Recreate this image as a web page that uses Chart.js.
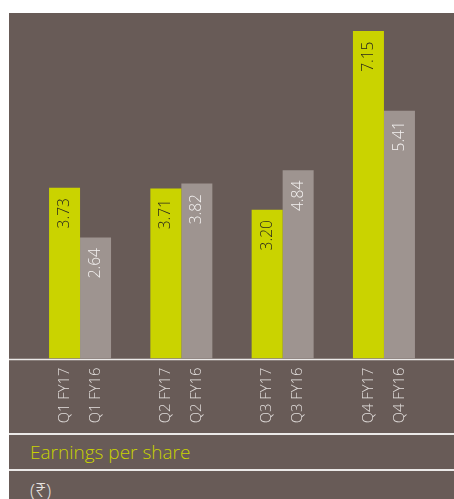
<!DOCTYPE html>
<html>
<head>
<meta charset="utf-8">
<script src="https://cdn.jsdelivr.net/npm/chart.js@4"></script>
<style>
  html, body { margin: 0; padding: 0; background: #fff; overflow: hidden; }
  #panel {
    position: absolute; left: 9px; top: 13px; width: 445px; height: 486px;
    background: #685b57; overflow: hidden;
    font-family: "Open Sans", "Noto Sans", "DejaVu Sans", sans-serif; font-weight: 300;
  }
  #epsChart { display: block; }
  .row { border-top: 2px solid #ebe9e8; padding-left: 21px; font-size: 19px; }
  .title { color: #c9d300; height: 34px; line-height: 34px; }
  .unit { color: #e6e2e0; height: 40px; line-height: 38px; }
</style>
</head>
<body>
<div id="panel">
  <canvas id="epsChart" width="445" height="420"></canvas>
  <div class="row title">Earnings per share</div>
  <div class="row unit">(₹)</div>
</div>
<script>
// quarters and the two years compared
var quarters = ["Q1", "Q2", "Q3", "Q4"];
var years = ["FY17", "FY16"];
// bar heights as drawn in the source picture
var eps_fy17 = [3.73, 3.71, 3.25, 7.15];
var eps_fy16 = [2.64, 3.82, 4.11, 5.41];
// values printed on the bars (Q3 FY16 bar is drawn shorter than its 4.84 label)
var text_fy17 = ["3.73", "3.71", "3.20", "7.15"];
var text_fy16 = ["2.64", "3.82", "4.84", "5.41"];

var barColors = ["#cad300", "#9e9490"];
var valueColors = ["#2b2a1c", "#f4f2f1"];

// one tick label per bar: two lines per quarter, spread over the pair of bars
var tickLabels = quarters.map(function (q) {
  return [q + " " + years[0], q + " " + years[1]];
});

// values written inside the top of each bar, rotated
var valueLabels = {
  id: "valueLabels",
  afterDatasetsDraw: function (chart) {
    var ctx = chart.ctx;
    chart.data.datasets.forEach(function (ds, i) {
      var meta = chart.getDatasetMeta(i);
      meta.data.forEach(function (bar, j) {
        ctx.save();
        ctx.translate(bar.x, bar.y + 10.5);
        ctx.rotate(-Math.PI / 2);
        ctx.textAlign = "right";
        ctx.textBaseline = "middle";
        ctx.font = "300 15.5px 'Open Sans', 'Noto Sans', sans-serif";
        ctx.fillStyle = valueColors[i];
        ctx.fillText(ds.valueText[j], 0, 0);
        ctx.restore();
      });
    });
  },
  afterDraw: function (chart) {
    // base line across the whole panel
    var ctx = chart.ctx;
    ctx.save();
    ctx.strokeStyle = "#ebe9e8";
    ctx.lineWidth = 1.6;
    ctx.beginPath();
    ctx.moveTo(0, chart.chartArea.bottom + 1);
    ctx.lineTo(chart.width, chart.chartArea.bottom + 1);
    ctx.stroke();
    ctx.restore();
  }
};

var ctx = document.getElementById("epsChart");
var myChart = new Chart(ctx, {
  type: 'bar',
  data: {
    labels: tickLabels,
    datasets: [
      {
        data: eps_fy17,
        valueText: text_fy17,
        label: years[0],
        backgroundColor: barColors[0]
      },
      {
        data: eps_fy16,
        valueText: text_fy16,
        label: years[1],
        backgroundColor: barColors[1]
      }
    ]
  },
  options: {
    responsive: false,
    animation: false,
    layout: { padding: { left: 20.4, right: 19.4, top: 2, bottom: 0 } },
    datasets: { bar: { categoryPercentage: 0.612, barPercentage: 1 } },
    plugins: {
      legend: { display: false },
      tooltip: { enabled: false }
    },
    scales: {
      y: { display: false, min: 0, max: 7.5 },
      x: {
        grid: { display: false, drawTicks: false },
        border: { display: false },
        afterFit: function (scale) {
          scale.height = 74.5;
          scale.paddingLeft = 0;
          scale.paddingRight = 0;
        },
        ticks: {
          color: "#e3dfdd",
          autoSkip: false,
          minRotation: 90,
          maxRotation: 90,
          padding: 9,
          labelOffset: -15.5,
          font: { family: "'Open Sans', 'Noto Sans', sans-serif", size: 14.8, weight: 300, lineHeight: 31 / 14.8 }
        }
      }
    }
  },
  plugins: [valueLabels]
});
</script>
</body>
</html>
